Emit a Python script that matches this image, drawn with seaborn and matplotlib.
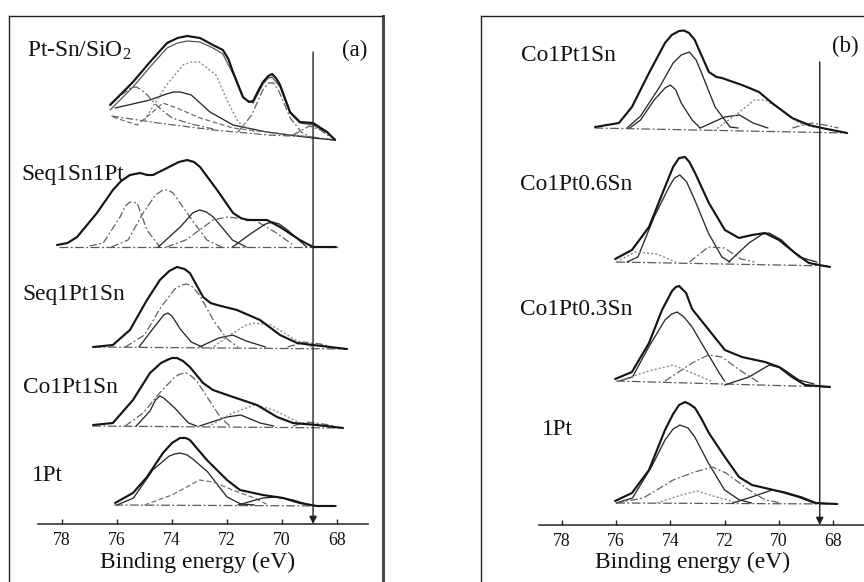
import matplotlib
matplotlib.use("Agg")
import matplotlib.pyplot as plt
import seaborn as sns
import pandas as pd

sns.set_theme(style="white")
plt.rcParams['font.family'] = ['Liberation Serif', 'DejaVu Serif']
plt.rcParams['mathtext.fontset'] = 'custom'
plt.rcParams['mathtext.rm'] = 'Liberation Serif'

# ------------------------------------------------------------------ data
tick_values = [78, 76, 74, 72, 70, 68]
x_label = "Binding energy (eV)"
arrow_energy = [68.87, 68.49]          # panel (a), panel (b)
panel_tags = ["(a)", "(b)"]

# panel (a): spectrum names and vertical offsets (arb. units)
a_names = ["Pt-Sn/SiO$_\\mathregular{2}$", "Seq1Sn1Pt", "Seq1Pt1Sn", "Co1Pt1Sn", "1Pt"]
a_offsets = [384, 277, 177, 98, 19]

# (binding energy eV, intensity arb.)
a1_env = [(76.25, 35), (75.42, 58), (74.8, 78), (74.18, 97), (73.8, 102), (73.45, 104), (72.98, 102),
          (72.51, 95), (72.15, 90), (71.95, 81), (71.78, 68), (71.42, 43), (71.2, 38), (71.05, 39),
          (70.85, 50), (70.69, 58), (70.5, 64), (70.36, 66), (70.22, 62), (70.07, 55), (69.71, 28),
          (69.35, 18), (68.87, 17), (68.36, 8), (68.07, 0)]
a1_fit = [(76.25, 30), (75.42, 53), (74.8, 73), (74.18, 92), (73.8, 97), (73.45, 99), (72.98, 98),
          (72.51, 92), (72.15, 86), (71.78, 66), (71.42, 42), (71.05, 37), (70.69, 56), (70.5, 62),
          (70.36, 63), (70.07, 53), (69.71, 27), (69.35, 17), (68.87, 15), (68.36, 7), (68.07, 1)]
a1_bg = [(76.2, 24), (74.5, 17), (72.5, 10), (70.5, 5), (68.9, 3), (68.1, 0)]
a1_c1 = [(76.25, 36), (75.8, 46), (75.5, 52), (75.3, 53), (75.1, 50), (74.9, 45), (74.5, 33), (74.0, 22),
         (73.3, 16), (72.5, 11)]
a1_c2 = [(76.07, 32), (74.8, 40), (74.2, 46), (73.95, 48), (73.7, 48), (73.3, 45), (72.62, 28), (71.78, 15),
         (70.55, 8), (68.87, 2), (68.1, 0)]
a1_c3 = [(76.15, 23), (75.27, 15), (74.7, 28), (74.33, 37), (73.82, 32), (72.98, 22), (71.78, 12),
         (70.0, 6), (68.9, 3)]
a1_c4 = [(75.0, 20), (74.2, 55), (73.6, 75), (73.3, 78), (73.0, 78), (72.4, 65), (72.0, 40), (71.6, 18), (71.0, 8)]
a1_c5 = [(71.6, 8), (71.1, 25), (70.7, 50), (70.5, 57), (70.3, 57), (70.1, 48), (69.7, 22), (69.3, 8), (68.9, 2)]
a1_c6 = [(69.6, 5), (69.0, 14), (68.6, 10), (68.2, 2)]

a2_env = [(78.18, 2), (77.8, 4), (77.45, 10), (76.73, 34), (76.15, 57), (75.85, 66), (75.53, 72),
          (75.16, 74), (74.9, 72), (74.69, 72), (74.18, 79), (73.75, 85), (73.45, 87), (73.2, 85),
          (72.98, 80), (72.36, 57), (71.78, 34), (71.5, 29), (71.27, 27), (70.55, 27), (70.07, 20),
          (69.35, 7), (68.87, 0), (68.04, 0)]
a2_c1 = [(77.0, 1), (76.5, 4), (75.89, 30), (75.7, 41), (75.53, 45), (75.27, 44), (74.91, 17), (74.44, 0)]
a2_c2 = [(76.2, 0), (75.6, 7), (75.05, 34), (74.6, 52), (74.33, 57), (74.15, 57), (73.96, 54), (73.35, 30),
         (72.73, 7), (72.2, 0)]
a2_c3 = [(74.5, 0), (73.7, 20), (73.25, 34), (73.0, 37), (72.75, 35), (72.5, 30), (71.8, 7), (71.3, 0)]
a2_c4 = [(74.2, 0), (73.5, 7), (72.5, 27), (72.0, 30), (71.0, 27), (70.2, 14), (69.6, 2)]
a2_c5 = [(71.8, 0), (71.1, 14), (70.6, 23), (70.35, 25), (70.1, 23), (69.8, 17), (69.1, 0)]
a2_base = [(78.1, 0), (67.9, 0)]

a3_env = [(76.87, 0), (76.15, 2), (75.53, 17), (74.91, 47), (74.44, 67), (74.1, 76), (73.82, 80),
          (73.55, 78), (73.35, 74), (72.87, 50), (72.6, 44), (72.36, 42), (71.64, 37), (70.8, 27),
          (70.07, 12), (69.45, 4), (68.87, 2), (67.64, -2)]
a3_c1 = [(75.7, 0), (75.0, 12), (74.4, 40), (73.9, 58), (73.65, 62), (73.45, 63), (73.25, 60), (73.0, 52),
         (72.5, 27), (72.0, 8), (71.6, 0)]
a3_c2 = [(75.2, 0), (74.7, 18), (74.3, 32), (74.15, 34), (74.0, 31), (73.7, 18), (73.3, 5), (72.9, 0)]
a3_c3 = [(73.0, 0), (72.3, 9), (71.8, 12), (71.3, 6), (70.6, 0)]
a3_c4 = [(72.6, -2), (71.9, 12), (71.3, 22), (71.0, 24), (70.4, 22), (69.5, 7), (68.9, 0)]
a3_c5 = [(69.8, 0), (69.2, 5), (68.6, 3), (68.2, 0)]
a3_base = [(76.9, 0), (67.6, -2)]

a4_env = [(76.87, 1), (76.15, 3), (75.42, 26), (74.8, 53), (74.4, 63), (74.18, 66), (74.0, 68),
          (73.82, 68), (73.6, 65), (73.35, 59), (72.87, 43), (72.51, 36), (71.78, 29), (70.91, 21),
          (70.18, 9), (69.6, 3), (68.73, 1), (67.78, -2)]
a4_c1 = [(75.7, 0), (75.05, 13), (74.45, 33), (73.9, 49), (73.7, 52), (73.5, 53), (73.3, 50), (73.1, 45),
         (72.7, 28), (72.25, 9), (71.9, 0)]
a4_c2 = [(75.3, 0), (74.8, 15), (74.6, 26), (74.45, 30), (74.3, 28), (73.9, 18), (73.4, 3), (73.1, 0)]
a4_c3 = [(73.0, 0), (72.0, 9), (71.5, 11), (70.8, 3), (70.3, 0)]
a4_c4 = [(72.7, -1), (71.8, 13), (71.0, 21), (70.3, 16), (69.35, 3), (68.6, 0)]
a4_c5 = [(69.6, 0), (69.1, 4), (68.5, 2), (68.1, 0)]
a4_base = [(76.9, 0), (67.8, -2)]

a5_env = [(76.07, 2), (75.42, 12), (74.91, 28), (74.33, 52), (74.0, 62), (73.71, 67), (73.5, 67),
          (73.35, 65), (72.73, 45), (72.0, 25), (71.53, 15), (70.69, 10), (69.96, 7), (69.35, 2),
          (68.73, -1), (68.07, -1)]
a5_c1 = [(76.0, 0), (75.4, 7), (74.7, 35), (74.1, 49), (73.9, 51), (73.7, 52), (73.45, 50), (73.2, 45),
         (72.7, 33), (72.0, 8), (71.5, 1), (71.0, 0)]
a5_c2 = [(75.0, 0), (74.0, 10), (73.0, 25), (72.5, 23), (71.8, 15), (71.0, 7), (70.5, 0)]
a5_c3 = [(71.6, 0), (70.7, 7), (70.2, 8), (69.6, 5), (69.0, 0)]
a5_base = [(76.1, 0), (68.0, -1)]

# panel (b)
b_names = ["Co1Pt1Sn", "Co1Pt0.6Sn", "Co1Pt0.3Sn", "1Pt"]
b_offsets = [397, 263, 144, 22]

b1_env = [(76.78, 1), (75.9, 5), (75.42, 21), (74.79, 55), (74.2, 85), (73.95, 93), (73.68, 97),
          (73.5, 97.5), (73.31, 95), (73.1, 88), (72.94, 78), (72.58, 56), (72.3, 51), (72.1, 50),
          (71.36, 43), (70.73, 36), (70.25, 25), (69.51, 10), (68.89, 3), (68.41, 0), (67.48, -5)]
b1_c1 = [(75.6, 0), (75.1, 12), (74.4, 41), (73.9, 65), (73.6, 73), (73.3, 76), (73.05, 68), (72.85, 55),
         (72.35, 21), (71.8, 1), (71.5, 0)]
b1_c2 = [(75.5, 0), (75.1, 8), (74.6, 28), (74.2, 40), (74.0, 43), (73.8, 38), (73.6, 25), (73.2, 8), (72.9, 0)]
b1_c3 = [(72.9, 0), (72.0, 11), (71.45, 13), (70.95, 5), (70.4, 0)]
b1_c4 = [(72.4, -3), (71.5, 15), (70.9, 28), (70.5, 28), (69.9, 18), (69.25, 5), (68.6, 0)]
b1_c5 = [(69.5, 0), (68.8, 5), (68.3, 3), (67.8, 0)]
b1_base = [(76.8, 0), (67.5, -5)]

b2_env = [(76.04, 3), (75.42, 12), (74.79, 35), (74.2, 75), (73.9, 95), (73.68, 104), (73.46, 105),
          (73.3, 100), (73.09, 89), (72.58, 59), (71.99, 32), (71.47, 24), (70.99, 27), (70.51, 29),
          (69.99, 22), (69.4, 9), (68.89, -1), (68.11, -5)]
b2_c1 = [(75.6, 0), (75.2, 5), (74.6, 45), (74.05, 75), (73.85, 84), (73.65, 87), (73.4, 80), (73.1, 62),
         (72.6, 29), (72.1, 5), (71.8, 0)]
b2_c2 = [(73.3, 0), (72.6, 15), (72.0, 14), (71.4, 3), (70.9, 0)]
b2_c3 = [(71.85, 0), (71.1, 19), (70.6, 28), (70.35, 29), (69.9, 22), (69.25, 5), (68.6, 0)]
b2_c4 = [(76.0, 0), (75.3, 10), (74.5, 8), (73.8, 0)]
b2_base = [(76.0, 0), (68.1, -4)]

b3_env = [(76.04, 2), (75.42, 9), (74.79, 38), (74.31, 71), (73.94, 90), (73.8, 94), (73.68, 95),
          (73.42, 88), (73.2, 72), (72.58, 51), (71.99, 31), (71.36, 24), (70.51, 19), (69.99, 14),
          (69.51, 4), (69.03, -4), (68.11, -6)]
b3_c1 = [(75.9, 0), (75.4, 4), (74.8, 34), (74.2, 61), (73.95, 67), (73.75, 69), (73.5, 64), (73.2, 54),
         (72.7, 31), (72.2, 8), (72.0, 0)]
b3_c2 = [(74.2, 0), (73.2, 18), (72.6, 26), (72.1, 24), (71.45, 11), (70.7, -2)]
b3_c3 = [(72.0, -4), (71.1, 4), (70.35, 16), (69.9, 13), (69.25, 1), (68.7, -3)]
b3_c4 = [(75.9, 0), (74.8, 10), (73.9, 16), (73.2, 8), (72.5, 0)]
b3_base = [(76.0, 0), (68.1, -6)]

b4_env = [(76.04, 2), (75.42, 10), (74.79, 33), (74.2, 73), (73.9, 89), (73.68, 98), (73.46, 101),
          (73.3, 99), (73.09, 95), (72.85, 84), (72.58, 70), (71.99, 46), (71.47, 26), (70.99, 18),
          (70.51, 15), (69.88, 11), (69.25, 6), (68.66, 0), (67.85, -1)]
b4_c1 = [(76.0, 0), (75.4, 5), (74.7, 36), (74.2, 63), (73.9, 74), (73.65, 78), (73.35, 75), (73.1, 66),
         (72.6, 40), (72.0, 13), (71.45, 3), (71.0, 0)]
b4_c2 = [(76.0, 0), (75.0, 5), (73.9, 23), (73.1, 31), (72.45, 36), (71.95, 30), (71.1, 13), (70.5, 3), (69.9, 0)]
b4_c3 = [(71.7, 0), (71.0, 6), (70.25, 13), (69.8, 11), (69.15, 6), (68.6, 0)]
b4_c4 = [(74.5, 0), (73.6, 8), (73.0, 12), (72.3, 6), (71.5, 0)]
b4_base = [(76.0, 0), (67.8, -1)]

# ------------------------------------------------------------------ styles
STY = {
    'env':  dict(color='#151515', lw=1.55, ls='-'),
    'fit':  dict(color='#555555', lw=0.9, ls='-'),
    'sol':  dict(color='#2a2a2a', lw=0.95, ls='-'),
    'dd':   dict(color='#606060', lw=0.9, ls=(0, (6, 2, 1.5, 2))),
    'dash': dict(color='#707070', lw=0.9, ls=(0, (4, 2))),
    'dot':  dict(color='#8a8a8a', lw=1.0, ls=(0, (1.5, 1.5))),
    'base': dict(color='#5a5a5a', lw=0.9, ls=(0, (7, 2, 1.5, 2))),
}

a_curves = [
    [(a1_bg, 'dd'), (a1_c1, 'dd'), (a1_c2, 'sol'), (a1_c3, 'dash'), (a1_c4, 'dot'), (a1_c5, 'dd'),
     (a1_c6, 'dd'), (a1_fit, 'fit'), (a1_env, 'env')],
    [(a2_base, 'base'), (a2_c1, 'dd'), (a2_c2, 'dd'), (a2_c3, 'sol'), (a2_c4, 'dd'), (a2_c5, 'sol'), (a2_env, 'env')],
    [(a3_base, 'base'), (a3_c1, 'dd'), (a3_c2, 'sol'), (a3_c3, 'sol'), (a3_c4, 'dot'), (a3_c5, 'dd'), (a3_env, 'env')],
    [(a4_base, 'base'), (a4_c1, 'dd'), (a4_c2, 'sol'), (a4_c3, 'sol'), (a4_c4, 'dot'), (a4_c5, 'dd'), (a4_env, 'env')],
    [(a5_base, 'base'), (a5_c1, 'sol'), (a5_c2, 'dash'), (a5_c3, 'sol'), (a5_env, 'env')],
]
b_curves = [
    [(b1_base, 'base'), (b1_c1, 'sol'), (b1_c2, 'sol'), (b1_c3, 'sol'), (b1_c4, 'dot'), (b1_c5, 'dd'), (b1_env, 'env')],
    [(b2_base, 'base'), (b2_c1, 'sol'), (b2_c2, 'dd'), (b2_c3, 'sol'), (b2_c4, 'dot'), (b2_env, 'env')],
    [(b3_base, 'base'), (b3_c1, 'sol'), (b3_c2, 'dd'), (b3_c3, 'sol'), (b3_c4, 'dot'), (b3_env, 'env')],
    [(b4_base, 'base'), (b4_c1, 'sol'), (b4_c2, 'dd'), (b4_c3, 'sol'), (b4_c4, 'dot'), (b4_env, 'env')],
]

W, H = 864, 582
fig = plt.figure(figsize=(W / 100, H / 100), dpi=100)
fig.patch.set_facecolor('white')


def make_panel(fl, fr, ft, fb, ppe, px78, axis_py, axis_l, axis_r):
    ax = fig.add_axes([fl / W, 1 - fb / H, (fr - fl) / W, (fb - ft) / H])
    ax.set_facecolor('white')
    ax.set_xlim(78 - (fl - px78) / ppe, 78 - (fr - px78) / ppe)
    ax.set_ylim(axis_py - fb, axis_py - ft)
    for s in ['left', 'top', 'right']:
        ax.spines[s].set_color('#222222')
        ax.spines[s].set_linewidth(1.0)
    ax.spines['bottom'].set_position(('data', 0))
    ax.spines['bottom'].set_bounds(78 - (axis_l - px78) / ppe, 78 - (axis_r - px78) / ppe)
    ax.spines['bottom'].set_color('#222222')
    ax.spines['bottom'].set_linewidth(1.1)
    ax.set_xticks(tick_values)
    ax.set_xticklabels([str(t) for t in tick_values], fontsize=12.8, color='#111111')
    ax.tick_params(axis='x', direction='in', length=3.5, width=1.0, color='#222222', pad=5.5,
                   bottom=True, top=False)
    ax.set_yticks([])
    ax.grid(False)
    return ax


def draw(ax, offsets, curves):
    for off, group in zip(offsets, curves):
        for pts, st in group:
            df = pd.DataFrame(pts, columns=['E', 'I'])
            df['y'] = off + df['I']
            s = STY[st]
            sns.lineplot(data=df, x='E', y='y', ax=ax, sort=False, estimator=None,
                         color=s['color'], lw=s['lw'], linestyle=s['ls'],
                         solid_joinstyle='round', solid_capstyle='round')


def ftext(px, py, s, size, **kw):
    fig.text(px / W, 1 - py / H, s, fontsize=size, color='#111111', va='baseline', **kw)


def finish(ax, energy, top, xc):
    ax.annotate('', xy=(energy, 0), xytext=(energy, top),
                arrowprops=dict(arrowstyle='-|>', color='#222222', lw=1.0, mutation_scale=11,
                                shrinkA=0, shrinkB=0))
    ax.set_xlabel(x_label, fontsize=17, color='#111111')
    ax.xaxis.label.set_va('baseline')
    ax.xaxis.set_label_coords(xc, (600 - 568) / 584)
    ax.set_ylabel('')


# panel (a)
axa = make_panel(9, 383, 16, 600, 27.5, 62, 524, 38, 368)
axa.spines['right'].set_linewidth(2.2)
axa.spines['right'].set_color('#4a4a4a')
draw(axa, a_offsets, a_curves)
finish(axa, arrow_energy[0], 472, 0.5053)

# panel (b)
axb = make_panel(481, 880, 16, 600, 27.1, 562, 525, 539, 872)
draw(axb, b_offsets, b_curves)
finish(axb, arrow_energy[1], 463, 0.529)

# labels
a_label_pos = [(27, 56), (21, 180), (22, 300), (23, 393), (32, 481)]
for (px, py), name in zip(a_label_pos, a_names):
    ftext(px, py, name, 16.8)
b_label_pos = [(521, 61), (520, 190), (520, 315), (542, 435)]
for (px, py), name in zip(b_label_pos, b_names):
    ftext(px, py, name, 16.8)
ftext(342, 56, panel_tags[0], 16.5)
ftext(832, 52, panel_tags[1], 16.5)

fig.savefig('out.png', dpi=100, facecolor='white')
